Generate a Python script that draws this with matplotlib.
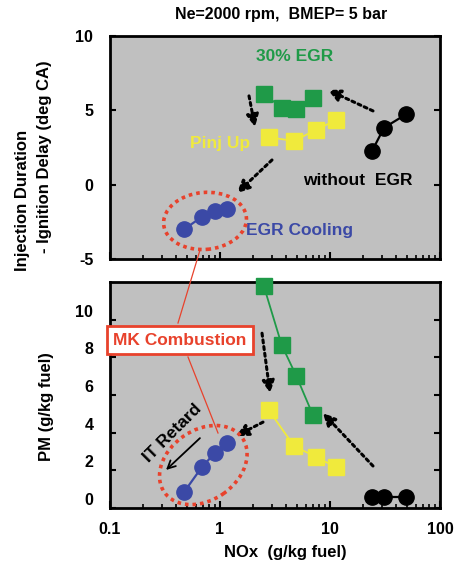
import matplotlib
matplotlib.use("Agg")
import matplotlib.pyplot as plt
from matplotlib.patches import Ellipse
from matplotlib.lines import Line2D
from matplotlib.transforms import ScaledTranslation
from matplotlib.ticker import FixedLocator, FixedFormatter, LogLocator, NullFormatter

plt.rcParams['font.family'] = ['Liberation Sans', 'DejaVu Sans']
plt.rcParams['font.weight'] = 'bold'
plt.rcParams['axes.unicode_minus'] = False

# ---- data ----
nox_noegr = [24.2, 31.0, 49.1]
id_noegr = [2.29, 3.83, 4.73]
pm_noegr = [0.57, 0.57, 0.57]

nox_egr = [2.5, 3.64, 4.95, 7.0]
id_egr = [6.10, 5.18, 5.07, 5.85]
pm_egr = [11.79, 8.65, 7.0, 4.93]

nox_pinj = [2.77, 4.71, 7.4, 11.4]
id_pinj = [3.19, 2.94, 3.68, 4.35]
pm_pinj = [5.2, 3.29, 2.72, 2.16]

nox_cool = [0.473, 0.682, 0.90, 1.165]
id_cool = [-3.0, -2.17, -1.75, -1.65]
pm_cool = [0.86, 2.16, 2.93, 3.43]

x_ticks = [0.1, 1, 10, 100]
x_ticklabels = ['0.1', '1', '10', '100']
id_ticks = [-5, 0, 5, 10]
pm_ticks = [0, 2, 4, 6, 8, 10]

GRAY = '#c0c0c0'
GREEN = '#1f9a48'
YELLOW = '#f0ea3c'
BLUE = '#3b49a6'
RED = '#e8422c'

W, H = 458, 572
fig = plt.figure(figsize=(W / 100, H / 100), dpi=100)
ax1 = fig.add_axes([110 / W, 1 - 259 / H, 330 / W, 223 / H])
ax2 = fig.add_axes([110 / W, 1 - 508 / H, 330 / W, 226 / H])

for ax in (ax1, ax2):
    ax.set_facecolor(GRAY)
    ax.set_xscale('log')
    ax.set_xlim(0.1, 100)
    for s in ax.spines.values():
        s.set_linewidth(2)
    ax.xaxis.set_major_locator(FixedLocator(x_ticks))
    ax.xaxis.set_minor_locator(LogLocator(base=10, subs=range(2, 10)))
    ax.xaxis.set_minor_formatter(NullFormatter())
    ax.tick_params(axis='x', which='major', direction='in', length=5, width=1.5, top=False, pad=10)
    ax.tick_params(axis='x', which='minor', direction='in', length=3, width=1.2, top=False)
    ax.tick_params(axis='y', which='major', direction='in', length=4, width=1.5, left=True, right=True, pad=12)
    ax.tick_params(labelsize=11.5)

ax1.set_ylim(-5, 10)
ax1.set_yticks(id_ticks)
ax1.set_xticklabels([])
ax2.set_ylim(0, 12)
ax2.set_yticks(pm_ticks)
ax2.xaxis.set_major_formatter(FixedFormatter(x_ticklabels))
for lab in ax2.get_yticklabels():
    lab.set_transform(lab.get_transform() + ScaledTranslation(0, 9 / 100, fig.dpi_scale_trans))
for lab in ax1.get_yticklabels() + ax2.get_yticklabels() + ax2.get_xticklabels():
    lab.set_fontweight('bold')

# ---- series ----
ax1.plot(nox_noegr, id_noegr, '-o', color='black', lw=1.6, ms=11, zorder=5)
ax1.plot(nox_egr, id_egr, '-s', color=GREEN, mec=GREEN, lw=1.3, ms=11, zorder=5)
ax1.plot(nox_pinj, id_pinj, '-s', color=YELLOW, mec=YELLOW, lw=1.3, ms=11, zorder=5)
ax1.plot(nox_cool, id_cool, '-o', color=BLUE, lw=1.6, ms=11, zorder=5)

ax2.plot(nox_noegr, pm_noegr, '-o', color='black', lw=1.6, ms=11, zorder=5, clip_on=False)
ax2.plot(nox_egr, pm_egr, '-s', color=GREEN, mec=GREEN, lw=1.3, ms=11, zorder=5, clip_on=False)
ax2.plot(nox_pinj, pm_pinj, '-s', color=YELLOW, mec=YELLOW, lw=1.3, ms=11, zorder=5)
ax2.plot(nox_cool, pm_cool, '-o', color=BLUE, lw=1.6, ms=11, zorder=5)

# ---- dotted arrows ----
def darrow(ax, start, end):
    ax.annotate('', xy=end, xytext=start,
                arrowprops=dict(arrowstyle='-|>', linestyle=(0, (1, 1.2)), lw=2.2,
                                color='black', mutation_scale=18, shrinkA=0, shrinkB=0),
                zorder=6)

darrow(ax1, (24.6, 4.96), (9.59, 6.37))
darrow(ax1, (1.835, 5.97), (2.08, 3.88))
darrow(ax1, (2.97, 1.66), (1.43, -0.56))
darrow(ax2, (2.41, 9.28), (2.85, 6.10))
darrow(ax2, (2.46, 4.56), (1.40, 3.82))
darrow(ax2, (24.6, 2.23), (8.63, 5.04))

ax2.annotate('', xy=(0.323, 2.02), xytext=(0.657, 3.71),
             arrowprops=dict(arrowstyle='->', lw=1.3, color='black',
                             mutation_scale=14, shrinkA=0, shrinkB=0), zorder=6)

# ---- ellipses ----
def ell(ax, cx, cy, w, h, ang):
    tr = fig.dpi_scale_trans + ScaledTranslation(cx, cy, ax.transData)
    e = Ellipse((0, 0), w / 100, h / 100, angle=ang, transform=tr, fill=False,
                edgecolor=RED, lw=2.6, linestyle=(0, (1, 1.1)), zorder=7, clip_on=False)
    ax.add_patch(e)

ell(ax1, 0.731, -2.44, 83, 57, 5)
ell(ax2, 0.705, 2.28, 95, 70, 35)

# ---- connector lines ----
fig.add_artist(Line2D([200 / W, 178 / W], [1 - 250 / H, 1 - 323 / H], color=RED, lw=0.9, zorder=8))
fig.add_artist(Line2D([188 / W, 218 / W], [1 - 357 / H, 1 - 433 / H], color=RED, lw=0.9, zorder=8))

# ---- texts ----
TS = 12.5
ax1.text(4.8, 8.59, '30% EGR', color=GREEN, fontsize=TS, fontweight='bold', ha='center', va='center')
ax1.text(1.0, 2.74, 'Pinj Up', color=YELLOW, fontsize=TS, fontweight='bold', ha='center', va='center')
ax1.text(17.97, 0.25, 'without  EGR', color='black', fontsize=TS, fontweight='bold', ha='center', va='center')
ax1.text(5.33, -3.05, 'EGR Cooling', color=BLUE, fontsize=TS, fontweight='bold', ha='center', va='center')
ax2.text(0.366, 3.98, 'IT Retard', color='black', fontsize=TS, fontweight='bold', ha='center', va='center',
         rotation=45)
ax2.text(0.433, 8.91, 'MK Combustion', color=RED, fontsize=12.5, fontweight='bold', ha='center', va='center',
         zorder=10, clip_on=False,
         bbox=dict(boxstyle='square,pad=0.38', fc='white', ec=RED, lw=2))

fig.text(281 / W, 1 - 14 / H, 'Ne=2000 rpm,  BMEP= 5 bar', fontsize=11.5, fontweight='bold', ha='center', va='center')
fig.text(285 / W, 1 - 553 / H, 'NOx  (g/kg fuel)', fontsize=12, fontweight='bold', ha='center', va='center')
fig.text(23 / W, 1 - 200 / H, 'Injection Duration', fontsize=12, fontweight='bold', ha='center', va='center',
         rotation=90)
fig.text(45 / W, 1 - 157 / H, '- Ignition Delay (deg CA)', fontsize=12, fontweight='bold', ha='center',
         va='center', rotation=90)
fig.text(47 / W, 1 - 407 / H, 'PM (g/kg fuel)', fontsize=12, fontweight='bold', ha='center', va='center',
         rotation=90)

fig.savefig('out.png', dpi=100)
